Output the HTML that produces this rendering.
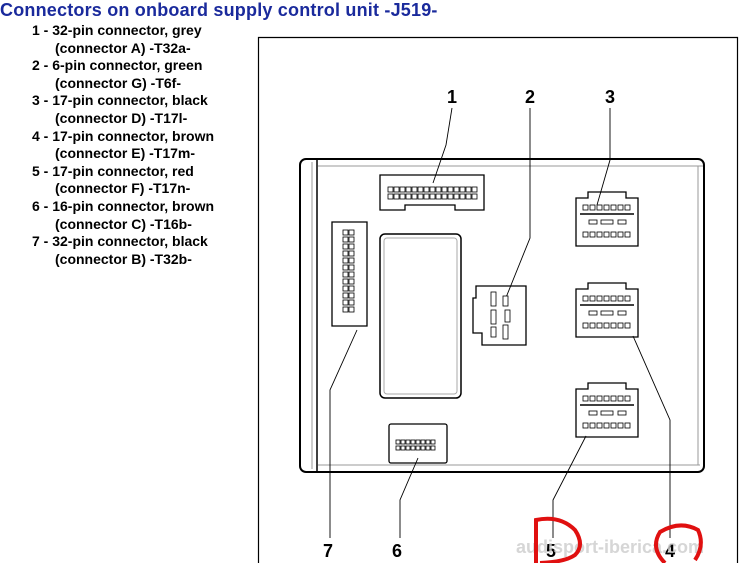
<!DOCTYPE html>
<html><head><style>
body{margin:0;width:742px;height:563px;overflow:hidden;background:#fff;font-family:"Liberation Sans",Arial,sans-serif}
.t{position:absolute;left:0;top:0px;color:#1a2a9c;font-weight:bold;font-size:18px;letter-spacing:0.2px}
.l{position:absolute;left:32px;top:22px;font-size:14px;font-weight:bold;line-height:17.6px;color:#000}
.l span{display:block;padding-left:23px}
</style></head><body>
<div class="t">Connectors on onboard supply control unit -J519-</div>
<div class="l">1 - 32-pin connector, grey<span>(connector A) -T32a-</span>2 - 6-pin connector, green<span>(connector G) -T6f-</span>3 - 17-pin connector, black<span>(connector D) -T17l-</span>4 - 17-pin connector, brown<span>(connector E) -T17m-</span>5 - 17-pin connector, red<span>(connector F) -T17n-</span>6 - 16-pin connector, brown<span>(connector C) -T16b-</span>7 - 32-pin connector, black<span>(connector B) -T32b-</span></div>
<svg width="742" height="563" style="position:absolute;left:0;top:0" font-family="Liberation Sans,Arial,sans-serif">
<g fill="none" stroke="#000">
<path d="M258.5 563V37.5H737.5V563" stroke-width="1.2"/>
<rect x="300" y="159" width="404" height="313" rx="6" stroke-width="2"/>
<line x1="317" y1="160" x2="317" y2="471" stroke-width="1.5"/>
<line x1="312" y1="162" x2="312" y2="469" stroke="#999"/>
<line x1="318" y1="166" x2="703" y2="166" stroke="#999"/>
<line x1="318" y1="465" x2="700" y2="465" stroke="#999"/>
<line x1="698" y1="166" x2="698" y2="465" stroke="#999"/>
<rect x="380" y="234" width="81" height="164" rx="5" stroke-width="1.5"/>
<rect x="384" y="238" width="73" height="156" rx="3" stroke="#aaa"/>
<path d="M380 175H484V210H455V205H405V210H380Z" stroke-width="1.3"/>
<path d="M332 222H367V326H332Z" stroke-width="1.3"/>
<path d="M476 286H526V345H482V333H473V298H476Z" stroke-width="1.3"/>
<path d="M576 198H588V192H626V198H638V246H576Z" stroke-width="1.3"/>
<path d="M576 289H588V283H626V289H638V337H576Z" stroke-width="1.3"/>
<path d="M576 389H588V383H626V389H638V437H576Z" stroke-width="1.3"/>
<rect x="389" y="424" width="58" height="39" rx="2" stroke-width="1.3"/>
<path d="M452 108L446 145L433 183" stroke-width="0.9"/>
<path d="M530 108V238L505 300" stroke-width="0.9"/>
<path d="M610 108V160L597 205" stroke-width="0.9"/>
<path d="M633 336L670 420V538" stroke-width="0.9"/>
<path d="M586 436L553 500V538" stroke-width="0.9"/>
<path d="M418 458L400 500V538" stroke-width="0.9"/>
<path d="M357 330L330 390V538" stroke-width="0.9"/>
</g>
<g fill="#fff" stroke="#000" stroke-width="0.8">
<g id="r1">
<rect x="388" y="187" width="5" height="5"/><rect x="394" y="187" width="5" height="5"/><rect x="400" y="187" width="5" height="5"/><rect x="406" y="187" width="5" height="5"/><rect x="412" y="187" width="5" height="5"/><rect x="418" y="187" width="5" height="5"/><rect x="424" y="187" width="5" height="5"/><rect x="430" y="187" width="5" height="5"/><rect x="436" y="187" width="5" height="5"/><rect x="442" y="187" width="5" height="5"/><rect x="448" y="187" width="5" height="5"/><rect x="454" y="187" width="5" height="5"/><rect x="460" y="187" width="5" height="5"/><rect x="466" y="187" width="5" height="5"/><rect x="472" y="187" width="5" height="5"/>
</g>
<use href="#r1" y="7"/>
<g id="c7"><rect x="343" y="230" width="5" height="5"/><rect x="343" y="237" width="5" height="5"/><rect x="343" y="244" width="5" height="5"/><rect x="343" y="251" width="5" height="5"/><rect x="343" y="258" width="5" height="5"/><rect x="343" y="265" width="5" height="5"/><rect x="343" y="272" width="5" height="5"/><rect x="343" y="279" width="5" height="5"/><rect x="343" y="286" width="5" height="5"/><rect x="343" y="293" width="5" height="5"/><rect x="343" y="300" width="5" height="5"/><rect x="343" y="307" width="5" height="5"/></g>
<use href="#c7" x="6"/>
<g id="k"><rect x="583" y="205" width="5" height="5"/><rect x="590" y="205" width="5" height="5"/><rect x="597" y="205" width="5" height="5"/><rect x="604" y="205" width="5" height="5"/><rect x="611" y="205" width="5" height="5"/><rect x="618" y="205" width="5" height="5"/><rect x="625" y="205" width="5" height="5"/>
<rect x="589" y="220" width="8" height="4"/><rect x="601" y="220" width="12" height="4"/><rect x="618" y="220" width="8" height="4"/>
<rect x="583" y="232" width="5" height="5"/><rect x="590" y="232" width="5" height="5"/><rect x="597" y="232" width="5" height="5"/><rect x="604" y="232" width="5" height="5"/><rect x="611" y="232" width="5" height="5"/><rect x="618" y="232" width="5" height="5"/><rect x="625" y="232" width="5" height="5"/>
<line x1="580" y1="214" x2="634" y2="214" stroke-width="1.5"/></g>
<use href="#k" y="91"/><use href="#k" y="191"/>
<g id="r6"><rect x="396" y="440" width="4" height="4"/><rect x="401" y="440" width="4" height="4"/><rect x="406" y="440" width="4" height="4"/><rect x="411" y="440" width="4" height="4"/><rect x="416" y="440" width="4" height="4"/><rect x="421" y="440" width="4" height="4"/><rect x="426" y="440" width="4" height="4"/><rect x="431" y="440" width="4" height="4"/></g>
<use href="#r6" y="6"/>
<rect x="491" y="292" width="5" height="14"/><rect x="503" y="296" width="5" height="10"/><rect x="491" y="310" width="5" height="14"/><rect x="505" y="310" width="5" height="12"/><rect x="491" y="327" width="5" height="10"/><rect x="503" y="325" width="5" height="14"/>
</g>
<g font-weight="bold" font-size="18" text-anchor="middle">
<text x="452" y="103">1</text><text x="530" y="103">2</text><text x="610" y="103">3</text>
<text x="328" y="557">7</text><text x="397" y="557">6</text><text x="551" y="557">5</text><text x="670" y="557">4</text>
</g>
<text x="610" y="553" font-size="18" font-weight="bold" fill="#ccc" opacity="0.8" text-anchor="middle">audisport-iberica.com</text>
<g fill="none" stroke="#e01010" stroke-width="4">
<path d="M536 563V520Q560 515 575 530Q585 545 575 555Q565 562 540 563"/>
<path d="M665 563Q650 548 660 532Q680 520 698 530Q705 545 695 560"/>
</g>
</svg>
</body></html>
